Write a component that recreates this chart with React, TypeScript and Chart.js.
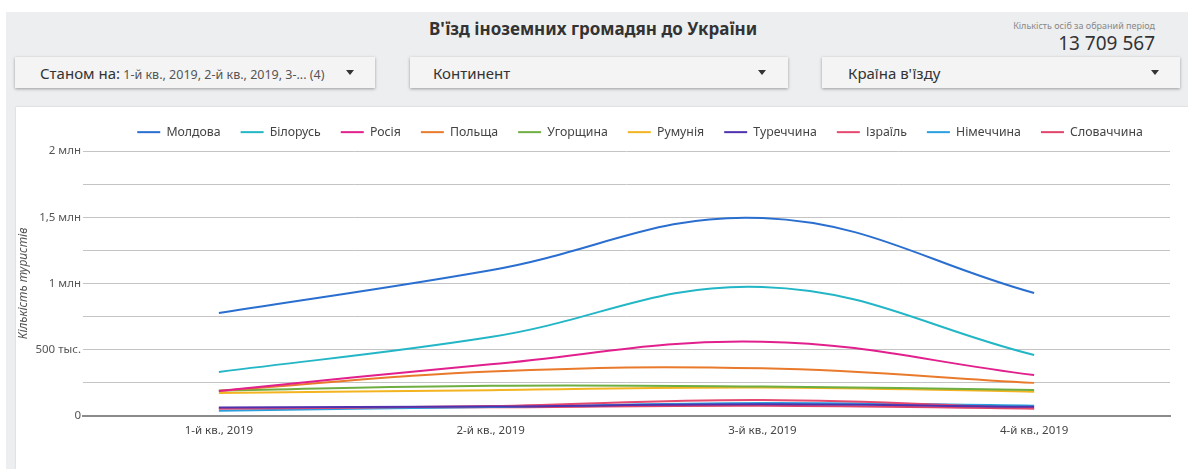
import React, { useEffect, useRef } from "react";
import { Chart, registerables } from "chart.js";

Chart.register(...registerables);

const FONT = "'Noto Sans', 'DejaVu Sans', sans-serif";

const quarters = ["1-й кв., 2019", "2-й кв., 2019", "3-й кв., 2019", "4-й кв., 2019"];

const countries = ["Молдова", "Білорусь", "Росія", "Польща", "Угорщина", "Румунія", "Туреччина", "Ізраїль", "Німеччина", "Словаччина"];

const moldova = [777000, 1100000, 1494000, 928000];
const belarus = [332000, 596000, 974000, 460000];
const russia = [189000, 390000, 560000, 309000];
const poland = [189000, 335000, 360000, 250000];
const hungary = [192000, 228000, 222000, 196000];
const romania = [174000, 195000, 215000, 183000];
const turkey = [65000, 72000, 88000, 70000];
const israel = [55000, 75000, 121000, 60000];
const germany = [40000, 68000, 98000, 78000];
const slovakia = [60000, 66000, 78000, 55000];

const seriesValues = [moldova, belarus, russia, poland, hungary, romania, turkey, israel, germany, slovakia];

const colors = ["#2a6fd0", "#22b6c6", "#e1208d", "#e97a2c", "#6fae42", "#f4b421", "#4f32ad", "#e6496f", "#2aa0df", "#e0446a"];

const yTickValues = [0, 500000, 1000000, 1500000, 2000000];
const yTickLabels = ["0", "500 тыс.", "1 млн", "1,5 млн", "2 млн"];

const totalLabel = "Кількість осіб за обраний період";
const totalValue = "13 709 567";

function ChartCanvas() {
  const ref = useRef<HTMLCanvasElement | null>(null);
  useEffect(() => {
    if (!ref.current) return;
    const legendFix = {
      id: "legendFix",
      beforeInit(chart: any) {
        const lg = chart.legend;
        if (!lg) return;
        const orig = lg.fit;
        lg.fit = function () {
          orig.call(this);
          this.height = 45;
        };
      },
    };
    const chart = new Chart(ref.current, {
      type: "line",
      data: {
        labels: quarters,
        datasets: countries.map((name, i) => ({
          label: name,
          data: seriesValues[i],
          borderColor: colors[i],
          backgroundColor: colors[i],
          borderWidth: 2,
          pointRadius: 0,
          pointHoverRadius: 0,
          tension: 0.4,
          fill: false,
          yAxisID: "y",
        })),
      },
      options: {
        animation: false,
        responsive: false,
        maintainAspectRatio: false,
        layout: { padding: 0 },
        plugins: {
          tooltip: { enabled: false },
          legend: {
            position: "top",
            align: "center",
            labels: {
              usePointStyle: true,
              pointStyle: "line",
              pointStyleWidth: 23,
              boxHeight: 12,
              padding: 20,
              color: "#444",
              font: { family: FONT, size: 12.3 },
            },
          },
        },
        scales: {
          x: {
            offset: true,
            grid: { display: false, drawTicks: false },
            border: { display: true, color: "#8a8a8a", width: 2 },
            ticks: { color: "#444", font: { family: FONT, size: 11.5 }, padding: 8, maxRotation: 0 },
            afterFit(scale: any) {
              scale.height = 53;
            },
          },
          y: {
            position: "left",
            min: 0,
            max: 2000000,
            grid: { color: "#c4c4c4", lineWidth: 1, drawTicks: false },
            border: { display: false },
            ticks: {
              stepSize: 250000,
              padding: 2,
              color: "#555",
              font: { family: FONT, size: 11.5 },
              callback: (v: any) => {
                const idx = yTickValues.indexOf(Number(v));
                return idx >= 0 ? yTickLabels[idx] : "";
              },
            },
            title: {
              display: true,
              text: "Кількість туристів",
              color: "#555",
              font: { family: FONT, size: 12, style: "italic" },
              padding: 0,
            },
            afterFit(scale: any) {
              scale.width = 67;
            },
          },
          yr: {
            position: "right",
            display: true,
            grid: { display: false, drawTicks: false },
            border: { display: false },
            ticks: { display: false },
            afterFit(scale: any) {
              scale.width = 94;
            },
          },
        },
      } as any,
      plugins: [legendFix],
    });
    return () => chart.destroy();
  }, []);
  return <canvas ref={ref} width={1248} height={363} style={{ display: "block", width: 1248, height: 363 }} />;
}

const dropStyle: React.CSSProperties = {
  position: "absolute",
  top: 57,
  height: 31,
  background: "#f4f4f5",
  boxShadow: "0 1px 3px rgba(0,0,0,0.35)",
  display: "flex",
  alignItems: "center",
  boxSizing: "border-box",
  color: "#333",
  fontSize: 15,
};

function Arrow({ left }: { left: number }) {
  return (
    <div style={{ position: "absolute", left, top: 13, width: 0, height: 0, borderLeft: "4px solid transparent", borderRight: "4px solid transparent", borderTop: "5px solid #333" }} />
  );
}

export default function App() {
  return (
    <div style={{ position: "fixed", left: 0, top: 0, width: 1188, height: 469, overflow: "hidden", background: "#ffffff", fontFamily: FONT }}>
      <div style={{ position: "absolute", left: 6, top: 12, width: 1182, height: 457, background: "#edeef0" }} />
      <div style={{ position: "absolute", left: 380, width: 426, top: 17, textAlign: "center", fontSize: 17, fontWeight: 700, color: "#333", whiteSpace: "nowrap" }}>
        В'їзд іноземних громадян до України
      </div>
      <div style={{ position: "absolute", right: 33, top: 19, fontSize: 9, color: "#888", textAlign: "right", whiteSpace: "nowrap" }}>{totalLabel}</div>
      <div style={{ position: "absolute", right: 33, top: 30, fontSize: 19, color: "#333", textAlign: "right", whiteSpace: "nowrap" }}>{totalValue}</div>

      <div style={{ ...dropStyle, left: 15, width: 360 }}>
        <span style={{ position: "absolute", left: 25, whiteSpace: "nowrap" }}>
          Станом на:<span style={{ fontSize: 12.5, color: "#555" }}> 1-й кв., 2019, 2-й кв., 2019, 3-... (4)</span>
        </span>
        <Arrow left={331} />
      </div>
      <div style={{ ...dropStyle, left: 410, width: 378 }}>
        <span style={{ position: "absolute", left: 23 }}>Континент</span>
        <Arrow left={348} />
      </div>
      <div style={{ ...dropStyle, left: 822, width: 358 }}>
        <span style={{ position: "absolute", left: 26 }}>Країна в'їзду</span>
        <Arrow left={329} />
      </div>

      <div style={{ position: "absolute", left: 16, top: 107, width: 1172, height: 362, background: "#ffffff", boxShadow: "0 0 2px rgba(0,0,0,0.15)" }} />
      <div style={{ position: "absolute", left: 16, top: 106 }}>
        <ChartCanvas />
      </div>
    </div>
  );
}
